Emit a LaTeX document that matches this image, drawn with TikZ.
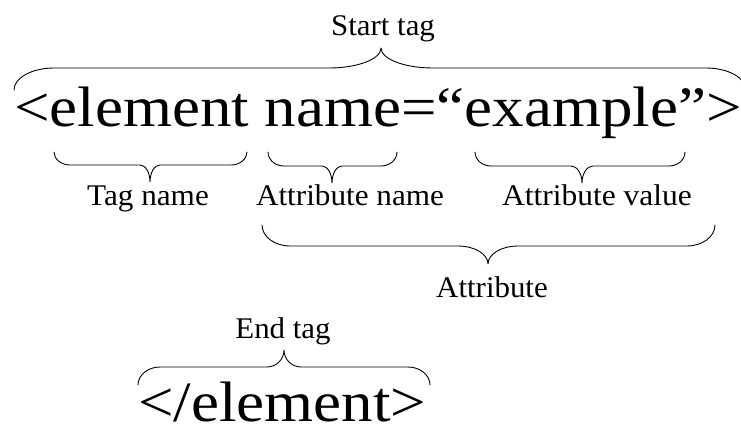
\documentclass[tikz,border=0pt]{standalone}
\usepackage{fontspec}
\setmainfont{Liberation Serif}
\usepackage{graphicx}

\tikzset{
  x=1pt, y=-1pt,
  bracepath/.style={line width=0.9pt, line cap=round, line join=round},
  bigtext/.style={anchor=base west, inner sep=0pt, font=\fontsize{57}{60}\selectfont},
  tagcaption/.style={anchor=base, inner sep=0pt, font=\fontsize{30}{32}\selectfont},
}

% horizontal curly brace: x-left, x-right, x-tip, y-ends, y-bar, y-tip, end width, cusp half-width
\newcommand\tagbrace[8]{%
  \draw[bracepath]
    (#1,#4) .. controls (#1,{#4+0.552*(#5-#4)}) and ({#1+0.448*#7},#5) .. ({#1+#7},#5)
    -- ({#3-#8},#5) .. controls ({#3-0.448*#8},#5) and (#3,{#6+0.552*(#5-#6)}) .. (#3,#6)
    .. controls (#3,{#6+0.552*(#5-#6)}) and ({#3+0.448*#8},#5) .. ({#3+#8},#5)
    -- ({#2-#7},#5) .. controls ({#2-0.448*#7},#5) and (#2,{#4+0.552*(#5-#4)}) .. (#2,#4);
}
\newcommand\widen[2]{\scalebox{#1}[1]{#2}}

\begin{document}
\begin{tikzpicture}
  \fill[white] (0,0) rectangle (741,433);
  \useasboundingbox (0,0) rectangle (741,433);
  \clip (0,0) rectangle (741,433);

  % start tag line
  \node[bigtext] (starttag) at (14,127) {\widen{1.105}{<element name=“example”>}};
  \node[tagcaption] (lblstart) at (383,36) {\widen{1.03}{Start tag}};
  \tagbrace{14}{746}{381}{90}{68}{48}{40}{52}

  % parts of the start tag
  \tagbrace{54}{247}{150}{152}{165}{182}{16}{10}
  \node[tagcaption] (lbltag) at (148,205) {\widen{1.04}{Tag name}};

  \tagbrace{268}{397}{332}{152}{166}{183}{16}{10}
  \node[tagcaption] (lblattrname) at (350,205) {\widen{1.04}{Attribute name}};

  \tagbrace{475}{685}{582}{152}{166}{183}{16}{11}
  \node[tagcaption] (lblattrval) at (597,205) {\widen{1.05}{Attribute value}};

  \tagbrace{262}{715}{488}{225}{246}{264}{28}{30}
  \node[tagcaption] (lblattr) at (492,297) {\widen{1.03}{Attribute}};

  % end tag
  \node[tagcaption] (lblend) at (283,338) {\widen{1.03}{End tag}};
  \tagbrace{138}{430}{284}{385}{367}{350}{22}{17}
  \node[bigtext, text depth=4pt] (endtag) at (138,421) {\widen{1.105}{</element>}};
\end{tikzpicture}
\end{document}
